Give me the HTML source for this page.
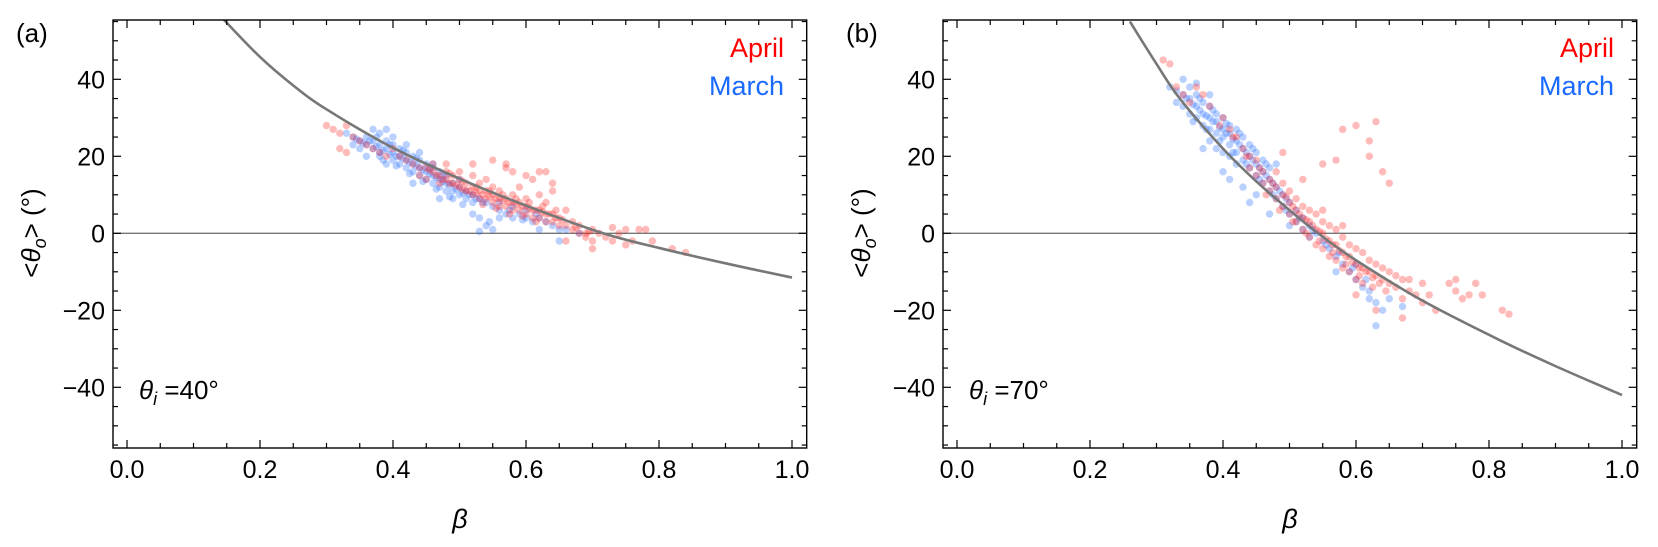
<!DOCTYPE html>
<html><head><meta charset="utf-8">
<style>
html,body{margin:0;padding:0;background:#fff;}
svg{display:block;font-family:"Liberation Sans",sans-serif;}
</style></head>
<body>
<svg id="chart" width="1658" height="547" viewBox="0 0 1658 547" xmlns="http://www.w3.org/2000/svg"></svg>
<script>
// ---- data ----
const xTicks = [0.0, 0.2, 0.4, 0.6, 0.8, 1.0];
const xTickLabels = ["0.0", "0.2", "0.4", "0.6", "0.8", "1.0"];
const yTicks = [40, 20, 0, -20, -40];
const yTickLabels = ["40", "20", "0", "\u221220", "\u221240"];
const curveA = [[0.146,55.4],[0.2,45.8],[0.25,38.4],[0.3,32.2],[0.4,22.2],[0.5,14.2],[0.6,7.2],[0.716,0],[0.8,-3.8],[0.9,-7.8],[1.0,-11.5]];
const curveB = [[0.26,55],[0.3,44],[0.335,35],[0.4,22],[0.45,13.5],[0.5,6],[0.543,0],[0.6,-7],[0.7,-17.5],[0.812,-27.4],[0.9,-34.5],[1.0,-42]];
const marchA = [[0.33,26],[0.34,25],[0.35,24],[0.35,22],[0.36,23],[0.36,25],[0.37,22],[0.37,24],[0.38,21],[0.38,23],[0.38,20],[0.39,22],[0.39,24],[0.39,27],[0.40,21],[0.40,19],[0.40,23],[0.41,20],[0.41,22],[0.41,18],[0.42,19],[0.42,21],[0.42,17],[0.43,20],[0.43,18],[0.43,16],[0.44,19],[0.44,17],[0.44,15],[0.45,18],[0.45,16],[0.45,14],[0.46,17],[0.46,15],[0.46,13],[0.47,16],[0.47,14],[0.47,12],[0.48,15],[0.48,13],[0.48,11],[0.49,13],[0.49,11],[0.49,9],[0.50,12],[0.50,10],[0.51,11],[0.51,9],[0.52,10],[0.52,8],[0.53,9],[0.53,4],[0.54,8],[0.54,2],[0.55,7],[0.55,1],[0.56,6],[0.56,8],[0.57,5],[0.58,7],[0.58,4],[0.59,5],[0.60,4],[0.60,6],[0.61,3],[0.62,4],[0.62,1],[0.63,3],[0.64,2],[0.65,1],[0.65,-2],[0.66,1],[0.68,0],[0.40,25],[0.37,27],[0.36,20],[0.44,21],[0.46,18],[0.34,23],[0.38,26],[0.42,23],[0.47,9],[0.52,5],[0.545,3],[0.53,0.5],[0.43,13],[0.39,18],[0.50,14],[0.56,4],
[0.355,23.5],[0.365,24],[0.375,22.5],[0.385,21.5],[0.395,20.5],[0.405,20],[0.415,19.5],[0.425,18.5],[0.435,17.5],[0.445,16.5],[0.455,15.5],[0.465,14.5],[0.475,13.5],[0.485,12.5],[0.495,11.5],[0.505,10.5],[0.515,10],[0.525,9],[0.535,8],[0.345,24.5],[0.375,25],[0.395,23],[0.415,21.5],[0.435,19.5],[0.455,17],[0.475,15],[0.385,19],[0.405,17.5],[0.425,15.5],[0.445,13.5],[0.465,11.5],[0.485,9.5],[0.505,7.5],[0.575,6],[0.595,3.5],[0.615,5]];
const aprilA = [[0.30,28],[0.31,27],[0.32,26],[0.32,22],[0.33,21],[0.33,28],[0.34,25],[0.35,24],[0.36,23],[0.37,22],[0.38,21],[0.39,20],[0.40,22],[0.41,20],[0.42,19],[0.43,18],[0.44,17],[0.44,15],[0.45,17],[0.45,14],[0.46,16],[0.46,18],[0.47,15],[0.47,13],[0.48,14],[0.48,16],[0.48,18],[0.49,13],[0.49,15],[0.50,12],[0.50,14],[0.50,16],[0.51,11],[0.51,13],[0.52,10],[0.52,12],[0.52,15],[0.53,9],[0.53,11],[0.53,13],[0.54,9],[0.54,11],[0.54,14],[0.55,8],[0.55,10],[0.55,12],[0.56,7],[0.56,9],[0.56,11],[0.57,7],[0.57,9],[0.57,17],[0.58,6],[0.58,8],[0.58,10],[0.59,6],[0.59,8],[0.59,12],[0.60,5],[0.60,7],[0.60,9],[0.61,4],[0.61,6],[0.61,14],[0.62,4],[0.62,6],[0.62,10],[0.63,3],[0.63,5],[0.63,8],[0.64,3],[0.64,5],[0.64,13],[0.65,2],[0.65,4],[0.66,2],[0.66,6],[0.67,1],[0.67,3],[0.68,0],[0.68,2],[0.69,0],[0.69,-1],[0.70,1],[0.70,-2],[0.71,0],[0.72,-1],[0.73,-2],[0.74,0],[0.75,1],[0.75,-3],[0.76,-2],[0.77,1],[0.78,1],[0.79,-2],[0.82,-4],[0.84,-5],[0.52,18],[0.55,19],[0.57,18],[0.60,15],[0.62,16],[0.63,16],[0.64,11],[0.58,16],[0.66,-2],[0.70,-4],[0.73,1.5],
[0.465,15],[0.475,14],[0.485,13],[0.495,12.5],[0.505,11.5],[0.515,11],[0.525,10.5],[0.535,10],[0.545,9.5],[0.555,9],[0.565,8.5],[0.575,8],[0.585,7.5],[0.595,7],[0.605,6.5],[0.615,6],[0.625,5.5],[0.635,5],[0.645,4],[0.655,3.5],[0.505,13.5],[0.525,12],[0.545,11],[0.565,10],[0.585,9],[0.605,8],[0.625,7],[0.645,6],[0.485,15.5],[0.455,16.5],[0.535,7.5],[0.555,6.5],[0.575,5],[0.595,4.5],[0.615,3],[0.675,1.5],[0.695,0.5]];
const marchB = [[0.32,38],[0.33,37],[0.33,34],[0.34,36],[0.34,33],[0.35,35],[0.35,31],[0.35,38],[0.36,33],[0.36,30],[0.36,36],[0.37,31],[0.37,28],[0.37,34],[0.38,30],[0.38,27],[0.38,33],[0.38,24],[0.39,29],[0.39,26],[0.39,31],[0.39,22],[0.40,27],[0.40,25],[0.40,30],[0.40,21],[0.41,26],[0.41,23],[0.41,28],[0.41,20],[0.42,24],[0.42,21],[0.42,27],[0.42,18],[0.43,22],[0.43,19],[0.43,25],[0.44,20],[0.44,17],[0.44,23],[0.45,18],[0.45,15],[0.45,21],[0.46,16],[0.46,13],[0.46,19],[0.47,14],[0.47,11],[0.47,17],[0.48,12],[0.48,9],[0.49,10],[0.49,7],[0.50,8],[0.50,5],[0.51,6],[0.51,3],[0.52,4],[0.52,1],[0.53,2],[0.53,-1],[0.54,0],[0.55,-2],[0.56,-4],[0.57,-6],[0.58,-8],[0.59,-10],[0.60,-12],[0.61,-14],[0.62,-15],[0.62,-17],[0.63,-18],[0.64,-20],[0.63,-24],[0.65,-17],[0.67,-19],[0.41,14],[0.40,16],[0.37,22],[0.43,12],[0.44,8],[0.48,18],[0.34,40],[0.36,39],[0.38,36],[0.45,10],[0.47,5],[0.50,2],[0.57,-10],[0.60,-8],
[0.345,35],[0.355,33.5],[0.365,32],[0.375,30.5],[0.385,29],[0.395,27.5],[0.405,26],[0.415,24.5],[0.425,23],[0.435,21],[0.445,19],[0.455,17],[0.465,15],[0.475,13],[0.485,11],[0.495,9],[0.355,29],[0.375,27],[0.395,24],[0.415,21],[0.435,18],[0.455,14],[0.475,10],[0.495,6],[0.515,4],[0.535,1],[0.555,-3],[0.575,-5],[0.595,-9],[0.615,-12],[0.405,28.5],[0.425,26],[0.445,22],[0.465,18],[0.365,35],[0.385,32]];
const aprilB = [[0.31,45],[0.32,44],[0.33,38],[0.34,36],[0.35,34],[0.36,38],[0.37,36],[0.38,33],[0.40,30],[0.41,27],[0.42,25],[0.43,22],[0.44,20],[0.44,17],[0.45,19],[0.45,15],[0.46,16],[0.46,13],[0.47,14],[0.47,11],[0.48,12],[0.48,9],[0.48,16],[0.49,10],[0.49,7],[0.49,13],[0.50,8],[0.50,5],[0.50,11],[0.51,6],[0.51,3],[0.51,9],[0.52,4],[0.52,1],[0.52,7],[0.53,3],[0.53,-1],[0.53,6],[0.54,1],[0.54,-3],[0.54,5],[0.55,0],[0.55,-4],[0.55,3],[0.56,-2],[0.56,-6],[0.56,2],[0.57,-3],[0.57,-7],[0.57,1],[0.58,-5],[0.58,-9],[0.58,-1],[0.59,-6],[0.59,-10],[0.59,-3],[0.60,-8],[0.60,-12],[0.60,-4],[0.61,-9],[0.61,-13],[0.61,-5],[0.62,-10],[0.62,-7],[0.63,-11],[0.63,-8],[0.64,-12],[0.64,-9],[0.65,-13],[0.65,-10],[0.66,-14],[0.66,-11],[0.67,-12],[0.67,-17],[0.68,-15],[0.68,-12],[0.69,-16],[0.70,-13],[0.70,-18],[0.71,-16],[0.72,-20],[0.74,-13],[0.75,-12],[0.75,-15],[0.76,-17],[0.77,-16],[0.78,-13],[0.79,-16],[0.82,-20],[0.83,-21],[0.57,19],[0.60,28],[0.63,29],[0.62,24],[0.55,18],[0.52,14],[0.49,21],[0.62,20],[0.64,16],[0.65,13],[0.58,27],[0.67,-22],[0.63,-20],[0.60,-16],[0.58,2],[0.55,6],
[0.435,20],[0.455,17],[0.475,13],[0.495,9.5],[0.505,7],[0.515,5],[0.525,3.5],[0.535,2],[0.545,0.5],[0.555,-1.5],[0.565,-3],[0.575,-4.5],[0.585,-6],[0.595,-7.5],[0.605,-9],[0.615,-10],[0.625,-11.5],[0.635,-13],[0.505,3],[0.525,0],[0.545,-2],[0.565,-5],[0.585,-8],[0.605,-11],[0.625,-14],[0.645,-15],[0.415,25],[0.395,28],[0.465,10],[0.485,6]];

// ---- layout ----
const NS = "http://www.w3.org/2000/svg";
const svg = document.getElementById("chart");
function mk(tag, attrs, parent) {
  const e = document.createElementNS(NS, tag);
  for (const k in attrs) e.setAttribute(k, attrs[k]);
  (parent || svg).appendChild(e);
  return e;
}
const FL = 113, FR = 806.7, FT = 20, FB = 448;
const X0 = 127, XS = 665;
const Y0 = 233.3, YS = 3.85;
const betaMin = (FL - X0) / XS, betaMax = (FR - X0) / XS;

function drawPanel(off, letter, thetaI, march, april, curve) {
  const g = mk("g", {});
  
  
  const xs = b => off + X0 + b * XS;
  const ys = t => Y0 - t * YS;

  const cp = mk("clipPath", { id: "clip" + letter }, g);
  mk("rect", { x: off + FL, y: FT, width: FR - FL, height: FB - FT }, cp);

  const zl = mk("line", { x1: off + FL, x2: off + FR, y1: ys(0), y2: ys(0), stroke: "#777", "stroke-width": 1.3 }, g);
  
  

  const pts = mk("g", { "clip-path": "url(#clip" + letter + ")" }, g);
  const mg = mk("g", {}, pts);
  
  
  march.forEach(p => {
    const c = mk("circle", { cx: xs(p[0]), cy: ys(p[1]), r: 3.7, fill: "#1a66ff", "fill-opacity": 0.3 }, mg);
    
    
  });
  const ag = mk("g", {}, pts);
  
  
  april.forEach(p => {
    const c = mk("circle", { cx: xs(p[0]), cy: ys(p[1]), r: 3.7, fill: "#ff1a1a", "fill-opacity": 0.3 }, ag);
    
    
  });

  const P = curve.map(p => [xs(p[0]), ys(p[1])]);
  let d = "M" + P[0][0] + "," + P[0][1];
  for (let i = 0; i < P.length - 1; i++) {
    const p0 = P[Math.max(i - 1, 0)], p1 = P[i], p2 = P[i + 1], p3 = P[Math.min(i + 2, P.length - 1)];
    const c1 = [p1[0] + (p2[0] - p0[0]) / 6, p1[1] + (p2[1] - p0[1]) / 6];
    const c2 = [p2[0] - (p3[0] - p1[0]) / 6, p2[1] - (p3[1] - p1[1]) / 6];
    d += " C" + c1 + " " + c2 + " " + p2;
  }
  const cv = mk("path", { d: d, fill: "none", stroke: "#777", "stroke-width": 2.6, "clip-path": "url(#clip" + letter + ")" }, g);
  
  

  const fr = mk("rect", { x: off + FL, y: FT, width: FR - FL, height: FB - FT, fill: "none", stroke: "#000", "stroke-width": 1.4 }, g);
  
  

  for (let k = 0; k <= 20; k++) {
    const b = k * 0.05; if (b < betaMin || b > betaMax) continue;
    const major = k % 4 === 0, len = major ? 8 : 5, x = xs(b);
    mk("line", { x1: x, x2: x, y1: FB, y2: FB - len, stroke: "#000", "stroke-width": 1.2 }, g);
    mk("line", { x1: x, x2: x, y1: FT, y2: FT + len, stroke: "#000", "stroke-width": 1.2 }, g);
  }
  xTicks.forEach((b, i) => {
    const t = mk("text", { x: xs(b), y: 478, "text-anchor": "middle", "font-size": 25 }, g);
    t.textContent = xTickLabels[i];
    
    
  });
  for (let v = -55; v <= 55; v += 5) {
    const y = ys(v); if (y < FT || y > FB) continue;
    const major = v % 20 === 0, len = major ? 8 : 5;
    mk("line", { x1: off + FL, x2: off + FL + len, y1: y, y2: y, stroke: "#000", "stroke-width": 1.2 }, g);
    mk("line", { x1: off + FR, x2: off + FR - len, y1: y, y2: y, stroke: "#000", "stroke-width": 1.2 }, g);
  }
  yTicks.forEach((v, i) => {
    const t = mk("text", { x: off + 105, y: ys(v) + 9, "text-anchor": "end", "font-size": 25 }, g);
    t.textContent = yTickLabels[i];
    
    
  });

  const xt = mk("text", { x: off + 460, y: 528, "text-anchor": "middle", "font-size": 27, "font-style": "italic" }, g);
  xt.textContent = "\u03B2";
  
  
  const yt = mk("text", { transform: "translate(" + (off + 40) + ",233) rotate(-90)", "text-anchor": "middle", "font-size": 26 }, g);
  
  
  yt.innerHTML = '&lt;<tspan font-style="italic">\u03B8</tspan><tspan font-style="italic" font-size="18" dy="6">o</tspan><tspan dy="-6">&gt; (\u00B0)</tspan>';

  const pl = mk("text", { x: off + 16, y: 42, "font-size": 26 }, g);
  pl.textContent = "(" + letter + ")";
  
  

  const an = mk("text", { x: off + 139, y: 399, "font-size": 26 }, g);
  
  
  an.innerHTML = '<tspan font-style="italic">\u03B8</tspan><tspan font-style="italic" font-size="18" dy="6">i</tspan><tspan dy="-6"> =' + thetaI + '\u00B0</tspan>';

  const la = mk("text", { x: off + 784, y: 57, "text-anchor": "end", "font-size": 27, fill: "#ff0000" }, g);
  la.textContent = "April";
  
  
  const lm = mk("text", { x: off + 784, y: 95, "text-anchor": "end", "font-size": 27, fill: "#1a6aff" }, g);
  lm.textContent = "March";
  
  
}

drawPanel(0, "a", 40, marchA, aprilA, curveA);
drawPanel(830, "b", 70, marchB, aprilB, curveB);
</script>
</body></html>
